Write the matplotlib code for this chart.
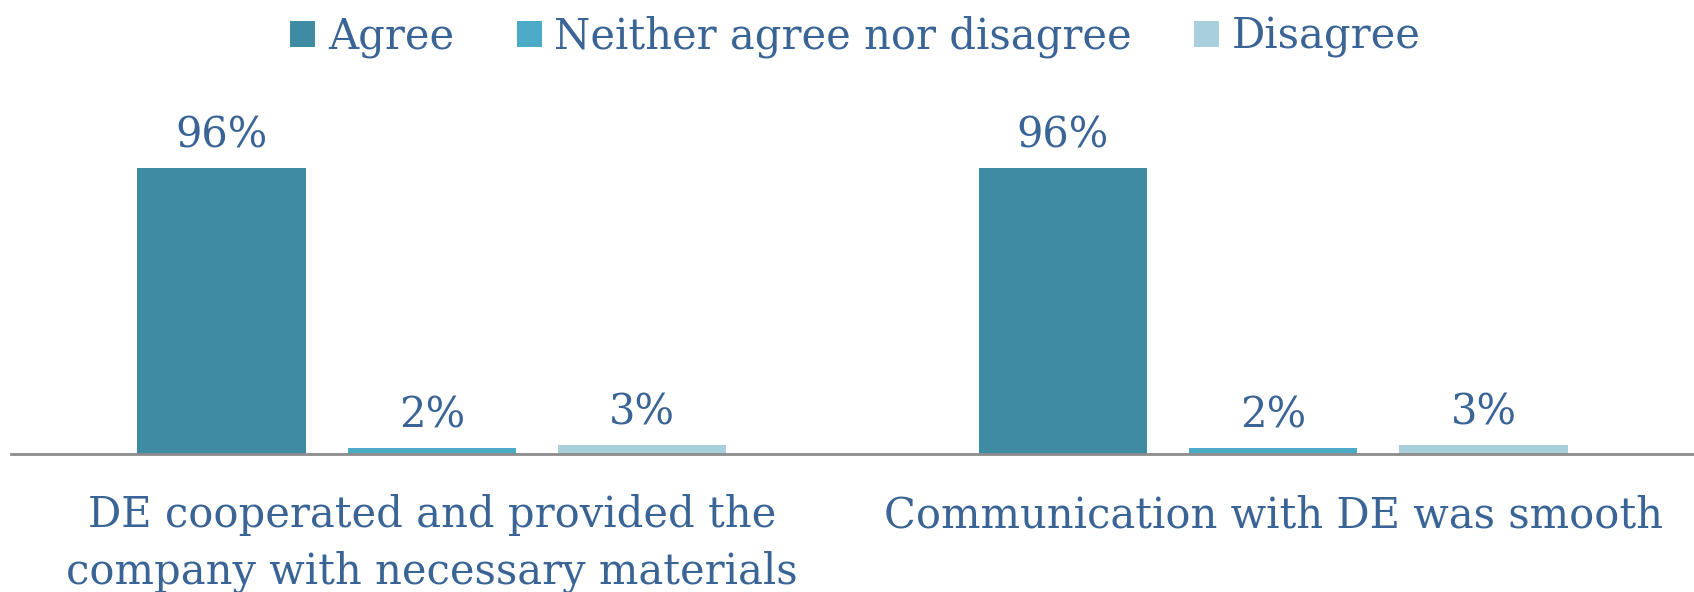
import matplotlib
matplotlib.use("Agg")
import matplotlib.pyplot as plt
import numpy as np

categories = ["DE cooperated and provided the\ncompany with necessary materials",
              "Communication with DE was smooth"]
series_names = ["Agree", "Neither agree nor disagree", "Disagree"]
values = {
    "Agree": [96, 96],
    "Neither agree nor disagree": [2, 2],
    "Disagree": [3, 3],
}
colors = ["#3D8CA3", "#4BABC6", "#A8CFDC"]
text_color = "#3A6496"

plt.rcParams['font.family'] = ['DejaVu Serif']

fig = plt.figure(figsize=(16.94, 5.92), dpi=100)
ax = fig.add_axes([11/1694, 1 - 454/592, 1 - 11/1694, (454 - 100)/592])

x = np.arange(len(categories))
width = 0.2
offsets = [-0.25, 0, 0.25]
handles = []
for name, off, col in zip(series_names, offsets, colors):
    vals = values[name]
    b = ax.bar(x + off, vals, width, color=col, label=name)
    handles.append(b)
    for xi, v in zip(x + off, vals):
        ax.text(xi, v + 4, f"{v}%", ha="center", va="bottom",
                fontsize=30, color=text_color)

ax.set_xlim(-0.5, 1.5)
ax.set_ylim(0, (454 - 100) / ((454 - 168.5) / 96))
ax.set_xticks(x)
ax.set_xticklabels(categories, fontsize=30, color=text_color, linespacing=1.42)
ax.tick_params(axis="x", length=0, pad=29)
ax.set_yticks([])
for s in ["top", "right", "left"]:
    ax.spines[s].set_visible(False)
ax.spines["bottom"].set_color("#8C8C8C")
ax.spines["bottom"].set_linewidth(2)

fig.legend(handles=handles, labels=series_names, loc="upper center",
           bbox_to_anchor=(0.505, 1.037), ncol=3, frameon=False,
           fontsize=30, labelcolor=text_color, handlelength=0.6,
           handleheight=0.6, handletextpad=0.3, columnspacing=1.5)

fig.savefig("out.png", dpi=100)
